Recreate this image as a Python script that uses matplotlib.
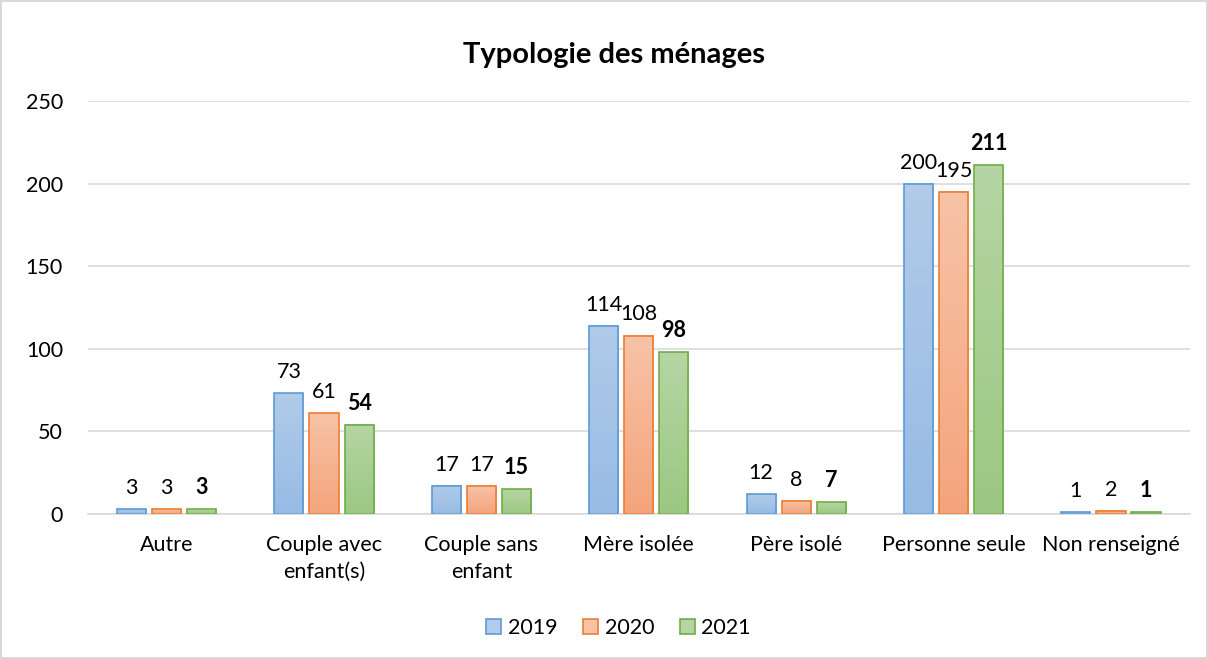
import numpy as np
import matplotlib
matplotlib.use("Agg")
import matplotlib.pyplot as plt
from matplotlib.colors import LinearSegmentedColormap
from matplotlib.patches import Rectangle

plt.rcParams['font.family'] = ['Lato', 'DejaVu Sans']

categories = ["Autre", "Couple avec\nenfant(s)", "Couple sans\nenfant", "Mère isolée",
              "Père isolé", "Personne seule", "Non renseigné"]
years = ["2019", "2020", "2021"]
v2019 = [3, 73, 17, 114, 12, 200, 1]
v2020 = [3, 61, 17, 108, 8, 195, 2]
v2021 = [3, 54, 15, 98, 7, 211, 1]

edges = ["#5b9bd5", "#ed7d31", "#70ad47"]
tops = ["#b1cbe9", "#f7c3a7", "#b6d5a4"]
bottoms = ["#97bbe5", "#f4a47c", "#9bc882"]

fs = 15.5

fig = plt.figure(figsize=(12.08, 6.59), dpi=100)
fig.patch.set_edgecolor("#d9d9d9")
fig.patch.set_linewidth(1.5)
ax = fig.add_axes([0.0728, 0.22, 0.912, 0.6267])

x = np.arange(len(categories))
w = 0.185
offsets = [-0.223, 0, 0.223]
series = [v2019, v2020, v2021]

grad = np.linspace(0, 1, 100).reshape(-1, 1)
for i, vals in enumerate(series):
    cmap = LinearSegmentedColormap.from_list("g%d" % i, [bottoms[i], tops[i]])
    bars = ax.bar(x + offsets[i], vals, w, color="none", edgecolor=edges[i],
                  linewidth=1.2, zorder=3, label=years[i])
    for b in bars:
        bx, by = b.get_x(), b.get_y()
        bw, bh = b.get_width(), b.get_height()
        ax.imshow(grad, extent=[bx, bx + bw, by, by + bh], origin="lower",
                  cmap=cmap, aspect="auto", zorder=2)
        ax.annotate(str(int(bh)), (bx + bw / 2, bh), xytext=(0, 8),
                    textcoords="offset points", ha="center", va="bottom",
                    fontsize=fs, fontweight="bold" if i == 2 else "normal",
                    color="#000000")

ax.set_xlim(-0.5, len(categories) - 0.5)
ax.set_ylim(0, 250)
ax.set_yticks([0, 50, 100, 150, 200, 250])
ax.set_xticks(x)
ax.set_xticklabels(categories, fontsize=fs, linespacing=1.45)
ax.tick_params(axis="y", labelsize=fs, length=0, pad=18)
ax.tick_params(axis="x", length=0, pad=15)
ax.yaxis.grid(True, color="#d9d9d9", linewidth=1.2, zorder=0)
ax.set_axisbelow(True)
for s in ["top", "right", "left"]:
    ax.spines[s].set_visible(False)
ax.spines["bottom"].set_color("#d9d9d9")
ax.spines["bottom"].set_linewidth(1.2)

handles = [Rectangle((0, 0), 1, 1, facecolor=tops[i], edgecolor=edges[i], linewidth=1.2)
           for i in range(3)]
fig.legend(handles, years, loc="center", bbox_to_anchor=(0.512, 0.047), ncol=3,
           frameon=False, fontsize=fs, handlelength=0.7, handleheight=0.7,
           handletextpad=0.3, columnspacing=1.2)

fig.suptitle("Typologie des ménages", x=0.508, y=0.937, fontsize=21, fontweight="bold")

fig.savefig("out.png", dpi=100, edgecolor=fig.get_edgecolor())
